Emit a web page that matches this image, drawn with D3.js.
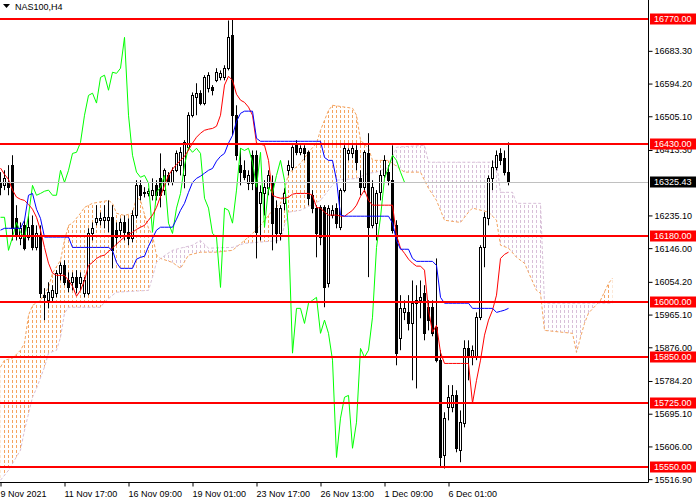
<!DOCTYPE html>
<html>
<head>
<meta charset="utf-8">
<script src="https://cdn.jsdelivr.net/npm/d3@7"></script>
<style>
body { margin: 0; background: #fff; }
text { font-family: "Liberation Sans", Arial, sans-serif; font-size: 9px; }
</style>
</head>
<body>
<svg id="chart" width="700" height="500"></svg>
<script>
// NAS100 H4 candles, one value per bar
var open = [16325,16317,16325,16372,16227,16173,16208,16176,16208,16148,
  16181,16018,16004,16012,16023,16077,16099,16058,16053,16067,
  16050,16023,16023,16186,16216,16222,16222,16222,16230,16195,
  16195,16216,16189,16173,16235,16317,16298,16295,16290,16317,
  16336,16304,16344,16325,16358,16372,16344,16421,16508,16557,
  16568,16541,16581,16584,16603,16611,16611,16636,16726,16508,
  16372,16358,16323,16399,16399,16268,16295,16309,16323,16255,
  16186,16268,16358,16366,16426,16407,16418,16407,16290,16255,
  16257,16257,16050,16235,16255,16203,16304,16404,16404,16412,
  16336,16312,16404,16208,16214,16298,16344,16353,16331,16208,
  15901,15971,15971,15941,15996,16004,16023,15985,15985,15931,
  15841,15582,15713,15713,15745,15596,15669,15873,15849,15849,
  15958,16148,16227,16336,16366,16404,16391,16353];
var high = [16353,16358,16372,16399,16263,16216,16222,16235,16235,16208,
  16208,16037,16053,16045,16086,16107,16113,16080,16080,16086,
  16080,16067,16200,16216,16263,16243,16263,16276,16263,16216,
  16227,16235,16227,16249,16331,16331,16312,16309,16336,16331,
  16404,16363,16353,16366,16412,16421,16440,16516,16570,16595,
  16576,16617,16625,16590,16636,16630,16644,16766,16772,16535,
  16418,16385,16358,16412,16412,16317,16331,16358,16344,16276,
  16263,16309,16385,16426,16440,16426,16426,16412,16304,16263,
  16263,16263,16263,16263,16268,16309,16426,16418,16426,16426,
  16358,16412,16459,16331,16304,16358,16399,16372,16426,16222,
  16018,16004,16018,16058,16045,16058,16045,16004,16004,16118,
  15868,15699,15773,15773,15759,15704,15895,15895,15881,15971,
  16154,16244,16344,16385,16412,16418,16412,16434];
var low = [16290,16304,16290,16167,16167,16154,16140,16167,16140,16140,
  16010,15950,15982,15999,16012,16058,16045,16026,16031,16023,
  16031,16012,16018,16167,16208,16208,16200,16189,16091,16154,
  16173,16167,16154,16162,16227,16276,16284,16287,16276,16276,
  16257,16290,16317,16317,16353,16344,16309,16412,16502,16508,
  16535,16535,16570,16562,16598,16603,16603,16630,16453,16385,
  16317,16331,16304,16304,16118,16167,16235,16290,16140,16159,
  16167,16249,16344,16358,16399,16399,16385,16263,16241,16121,
  16154,15985,16039,16227,16200,16195,16298,16385,16391,16358,
  16290,16298,16067,16200,16167,16276,16336,16317,16186,15827,
  15868,15950,15922,15786,15764,15955,15895,15922,15906,15835,
  15549,15546,15677,15699,15590,15563,15658,15786,15827,15841,
  15950,16094,16208,16304,16358,16372,16344,16317];
var close = [16312,16336,16312,16200,16181,16200,16146,16203,16148,16186,
  16023,16012,16026,16031,16077,16099,16053,16039,16067,16039,
  16067,16058,16186,16200,16227,16227,16230,16230,16140,16176,
  16216,16189,16173,16235,16317,16290,16295,16301,16304,16290,
  16290,16358,16325,16358,16404,16407,16434,16508,16562,16568,
  16541,16611,16617,16576,16625,16622,16636,16720,16508,16399,
  16353,16339,16344,16323,16189,16298,16312,16344,16214,16186,
  16255,16295,16372,16421,16407,16418,16404,16282,16255,16186,
  16176,16039,16255,16249,16214,16304,16418,16412,16418,16380,
  16312,16407,16203,16312,16295,16344,16385,16331,16195,15860,
  15982,15982,15941,15996,16004,16012,15914,15950,15914,15841,
  15576,15683,15740,15745,15601,15672,15873,15849,15868,15958,
  16148,16230,16336,16366,16399,16385,16353,16325.43];

// Ichimoku lines
var tenkan = [16364,16347,16333,16304,16285,16279,16276,16265,16252,16230,
  16195,16148,16105,16078,16072,16072,16072,16058,16042,16015,
  16031,16058,16099,16107,16118,16124,16127,16137,16146,16157,
  16167,16176,16184,16189,16197,16203,16208,16222,16236,16257,
  16287,16317,16344,16361,16374,16385,16396,16413,16432,16448,
  16459,16467,16470,16472,16478,16508,16590,16614,16603,16565,
  16549,16543,16530,16508,16432,16429,16426,16385,16290,16285,
  16282,16282,16285,16293,16295,16295,16295,16295,16290,16257,
  16255,16244,16236,16236,16236,16233,16233,16241,16249,16263,
  16287,16304,16276,16263,16263,16263,16263,16263,16263,16181,
  16146,16132,16116,16105,16097,16097,16086,15977,15917,15936,
  15862,15832,15832,15832,15832,15832,15832,15832,15724,15786,
  15841,15909,15950,15977,16018,16118,16129,16135];
var kijun = [16195,16200,16200,16200,16200,16200,16222,16290,16295,16252,
  16227,16176,16176,16176,16176,16176,16176,16176,16148,16148,
  16148,16148,16148,16148,16148,16148,16148,16148,16140,16107,
  16091,16091,16091,16091,16116,16121,16124,16151,16173,16195,
  16203,16203,16203,16203,16225,16249,16268,16298,16325,16336,
  16342,16350,16358,16363,16383,16396,16404,16432,16453,16491,
  16513,16519,16519,16519,16445,16437,16437,16437,16437,16437,
  16437,16437,16437,16437,16437,16437,16437,16437,16437,16437,
  16437,16393,16385,16385,16331,16236,16233,16233,16233,16233,
  16233,16233,16233,16233,16233,16233,16233,16233,16214,16167,
  16143,16143,16143,16118,16110,16110,16110,16110,16110,16099,
  16012,15996,15996,15996,15996,15996,15996,15996,15982,15982,
  15982,15982,15982,15982,15971,15974,15977,15982];
// cloud edges as [bar, price], the cloud runs 26 bars past the last candle
var spanA = [[0,15822],[1,15841],[3,15846],[5,15868],[6,15887],[7,15963],[8,15990],
  [10,16004],[12,16039],[13,16078],[15,16113],[16,16167],[17,16208],[18,16214],
  [20,16241],[21,16257],[23,16268],[27,16276],[28,16268],[29,16241],[31,16235],
  [33,16241],[34,16285],[35,16276],[37,16200],[38,16181],[39,16127],[40,16118],
  [43,16107],[45,16091],[47,16127],[50,16135],[54,16135],[58,16140],[61,16167],
  [63,16186],[65,16208],[68,16249],[70,16268],[71,16304],[72,16350],[73,16358],
  [75,16377],[77,16407],[79,16432],[80,16467],[81,16494],[82,16521],[83,16535],
  [88,16527],[89,16508],[90,16440],[92,16418],[93,16385],[97,16385],[101,16353],
  [105,16353],[107,16309],[109,16276],[111,16222],[115,16216],[117,16244],
  [118,16255],[122,16244],[124,16222],[125,16154],[127,16146],[129,16121],
  [131,16105],[132,16080],[134,16031],[135,16023],[136,15922],[143,15914],
  [144,15862],[145,15903],[146,15941],[147,15969],[150,16004],[152,16050],[153,16064]];
var spanB = [[0,15514],[2,15541],[5,15596],[6,15650],[8,15740],[9,15764],[11,15822],
  [12,15860],[14,15868],[15,15903],[16,15969],[17,15985],[25,15985],[26,15999],
  [28,16018],[29,16026],[37,16031],[38,16067],[39,16107],[40,16118],[43,16140],
  [45,16146],[48,16154],[50,16167],[52,16146],[58,16148],[61,16159],[70,16167],
  [71,16208],[72,16244],[75,16249],[80,16276],[82,16304],[84,16331],[89,16336],
  [92,16350],[94,16353],[97,16366],[99,16421],[106,16426],[107,16380],[124,16380],
  [125,16298],[128,16298],[129,16268],[135,16268],[136,15996],[153,15996]];

var levels = [16770, 16430, 16180, 16000, 15850, 15725, 15550];
var lastPrice = 16325.43;
var priceTicks = [16683.30, 16594.20, 16505.10, 16413.30, 16235.10, 16146.00, 16054.20,
  15965.10, 15876.00, 15784.20, 15695.10, 15606.00, 15516.90];
var timeIdx = [0, 16, 32, 48, 64, 80, 96, 112];
var timeLabels = ["9 Nov 2021", "11 Nov 17:00", "16 Nov 09:00", "19 Nov 01:00",
  "23 Nov 17:00", "26 Nov 13:00", "1 Dec 09:00", "6 Dec 01:00"];

var W = 648, H = 482;
var svg = d3.select("#chart");
svg.append("rect").attr("width", 700).attr("height", 500).attr("fill", "#fff");

var x = d3.scaleLinear().domain([0, 153]).range([0.5, 612.5]);
var y = d3.scaleLinear().domain([15550, 16770]).range([467, 19]);

var defs = svg.append("defs");
defs.append("clipPath").attr("id", "plotClip")
  .append("rect").attr("width", W).attr("height", H);

// dotted hatching of the cloud, one column per bar
[["hatchA", "#f4a460"], ["hatchB", "#d8bfd8"]].forEach(function(p) {
  defs.append("pattern").attr("id", p[0])
    .attr("patternUnits", "userSpaceOnUse")
    .attr("width", 4).attr("height", 5)
    .append("rect").attr("width", 1).attr("height", 3).attr("fill", p[1]);
});

var below = d3.area().x(function(d) { return x(d[0]); })
  .y0(function(d) { return y(d[1]); }).y1(H);
var above = d3.area().x(function(d) { return x(d[0]); })
  .y0(0).y1(function(d) { return y(d[1]); });
defs.append("clipPath").attr("id", "belowA").append("path").attr("d", below(spanA));
defs.append("clipPath").attr("id", "aboveA").append("path").attr("d", above(spanA));
defs.append("clipPath").attr("id", "belowB").append("path").attr("d", below(spanB));
defs.append("clipPath").attr("id", "aboveB").append("path").attr("d", above(spanB));

var plot = svg.append("g").attr("clip-path", "url(#plotClip)");

// span A above span B -> sandy, otherwise thistle
plot.append("g").attr("clip-path", "url(#belowA)")
  .append("g").attr("clip-path", "url(#aboveB)")
  .append("rect").attr("width", W).attr("height", H).attr("fill", "url(#hatchA)");
plot.append("g").attr("clip-path", "url(#belowB)")
  .append("g").attr("clip-path", "url(#aboveA)")
  .append("rect").attr("width", W).attr("height", H).attr("fill", "url(#hatchB)");

var pline = d3.line().x(function(d) { return x(d[0]); }).y(function(d) { return y(d[1]); });
plot.append("path").attr("d", pline(spanA))
  .attr("fill", "none").attr("stroke", "#f4a460").attr("stroke-dasharray", "3,2");
plot.append("path").attr("d", pline(spanB))
  .attr("fill", "none").attr("stroke", "#d8bfd8").attr("stroke-dasharray", "3,2");

// candles
var bars = d3.range(close.length);
plot.append("g").selectAll("line")
  .data(bars).join("line")
  .attr("x1", function(i) { return x(i); })
  .attr("x2", function(i) { return x(i); })
  .attr("y1", function(i) { return y(high[i]); })
  .attr("y2", function(i) { return y(low[i]); })
  .attr("stroke", "#000");

plot.append("g").selectAll("rect")
  .data(bars).join("rect")
  .attr("x", function(i) { return x(i) - 1; })
  .attr("width", 2)
  .attr("y", function(i) { return Math.round(y(Math.max(open[i], close[i]))) + 0.5; })
  .attr("height", function(i) {
    return Math.max(0, Math.round(y(Math.min(open[i], close[i]))) - Math.round(y(Math.max(open[i], close[i]))));
  })
  .attr("fill", function(i) { return close[i] >= open[i] ? "#fff" : "#000"; })
  .attr("stroke", "#000");

// tenkan, kijun, chikou (close shifted back 26 bars)
var chikou = d3.range(close.length - 26).map(function(i) { return [i, close[i + 26]]; });
plot.append("path").attr("d", pline(chikou))
  .attr("fill", "none").attr("stroke", "#00ff00");
plot.append("path").attr("d", pline(tenkan.map(function(v, i) { return [i, v]; })))
  .attr("fill", "none").attr("stroke", "#ff0000");
plot.append("path").attr("d", pline(kijun.map(function(v, i) { return [i, v]; })))
  .attr("fill", "none").attr("stroke", "#0000ff");

// current price line
svg.append("line")
  .attr("x1", 0).attr("x2", W)
  .attr("y1", Math.round(y(lastPrice)) + 0.5).attr("y2", Math.round(y(lastPrice)) + 0.5)
  .attr("stroke", "#c0c0c0");

// horizontal levels
svg.append("g").selectAll("line")
  .data(levels).join("line")
  .attr("x1", 0).attr("x2", W)
  .attr("y1", function(d) { return Math.round(y(d)); })
  .attr("y2", function(d) { return Math.round(y(d)); })
  .attr("stroke", "#ff0000").attr("stroke-width", 2);

// axes
var yAxis = d3.axisRight(y).tickValues(priceTicks)
  .tickFormat(d3.format(".2f")).tickSize(4).tickPadding(2);
var ga = svg.append("g").attr("transform", "translate(" + (W + 0.5) + ",0)").call(yAxis);
ga.select(".domain").remove();
ga.selectAll("text").attr("fill", "#000").style("font-size", "9px")
  .style("font-family", "'Liberation Sans', Arial, sans-serif");

var xAxis = d3.axisBottom(x).tickValues(timeIdx)
  .tickFormat(function(d, i) { return timeLabels[i]; }).tickSize(4).tickPadding(4);
var gx = svg.append("g").attr("transform", "translate(0," + (H + 0.5) + ")").call(xAxis);
gx.select(".domain").remove();
gx.selectAll("text").attr("fill", "#000").attr("text-anchor", "start").attr("dx", "-0.5")
  .style("font-size", "9px").style("font-family", "'Liberation Sans', Arial, sans-serif");

svg.append("line").attr("x1", W + 0.5).attr("x2", W + 0.5).attr("y1", 0).attr("y2", H + 0.5)
  .attr("stroke", "#000");
svg.append("line").attr("x1", 0).attr("x2", W + 0.5).attr("y1", H + 0.5).attr("y2", H + 0.5)
  .attr("stroke", "#000");

// price labels on the scale
var tags = levels.map(function(d) { return { v: d, bg: "#ff0000" }; })
  .concat([{ v: lastPrice, bg: "#000" }]);
var tg = svg.append("g").selectAll("g")
  .data(tags).join("g")
  .attr("transform", function(d) { return "translate(650," + Math.round(y(d.v)) + ")"; });
tg.append("rect").attr("y", -5.5).attr("width", 46).attr("height", 11)
  .attr("fill", function(d) { return d.bg; });
tg.append("text").attr("x", 4).attr("dy", "0.34em").attr("fill", "#fff")
  .text(function(d) { return d.v.toFixed(2); });

// title
svg.append("path").attr("d", "M3,4L10,4L6.5,8Z").attr("fill", "#000");
svg.append("text").attr("x", 15).attr("y", 10).attr("fill", "#000").text("NAS100,H4");
</script>
</body>
</html>
